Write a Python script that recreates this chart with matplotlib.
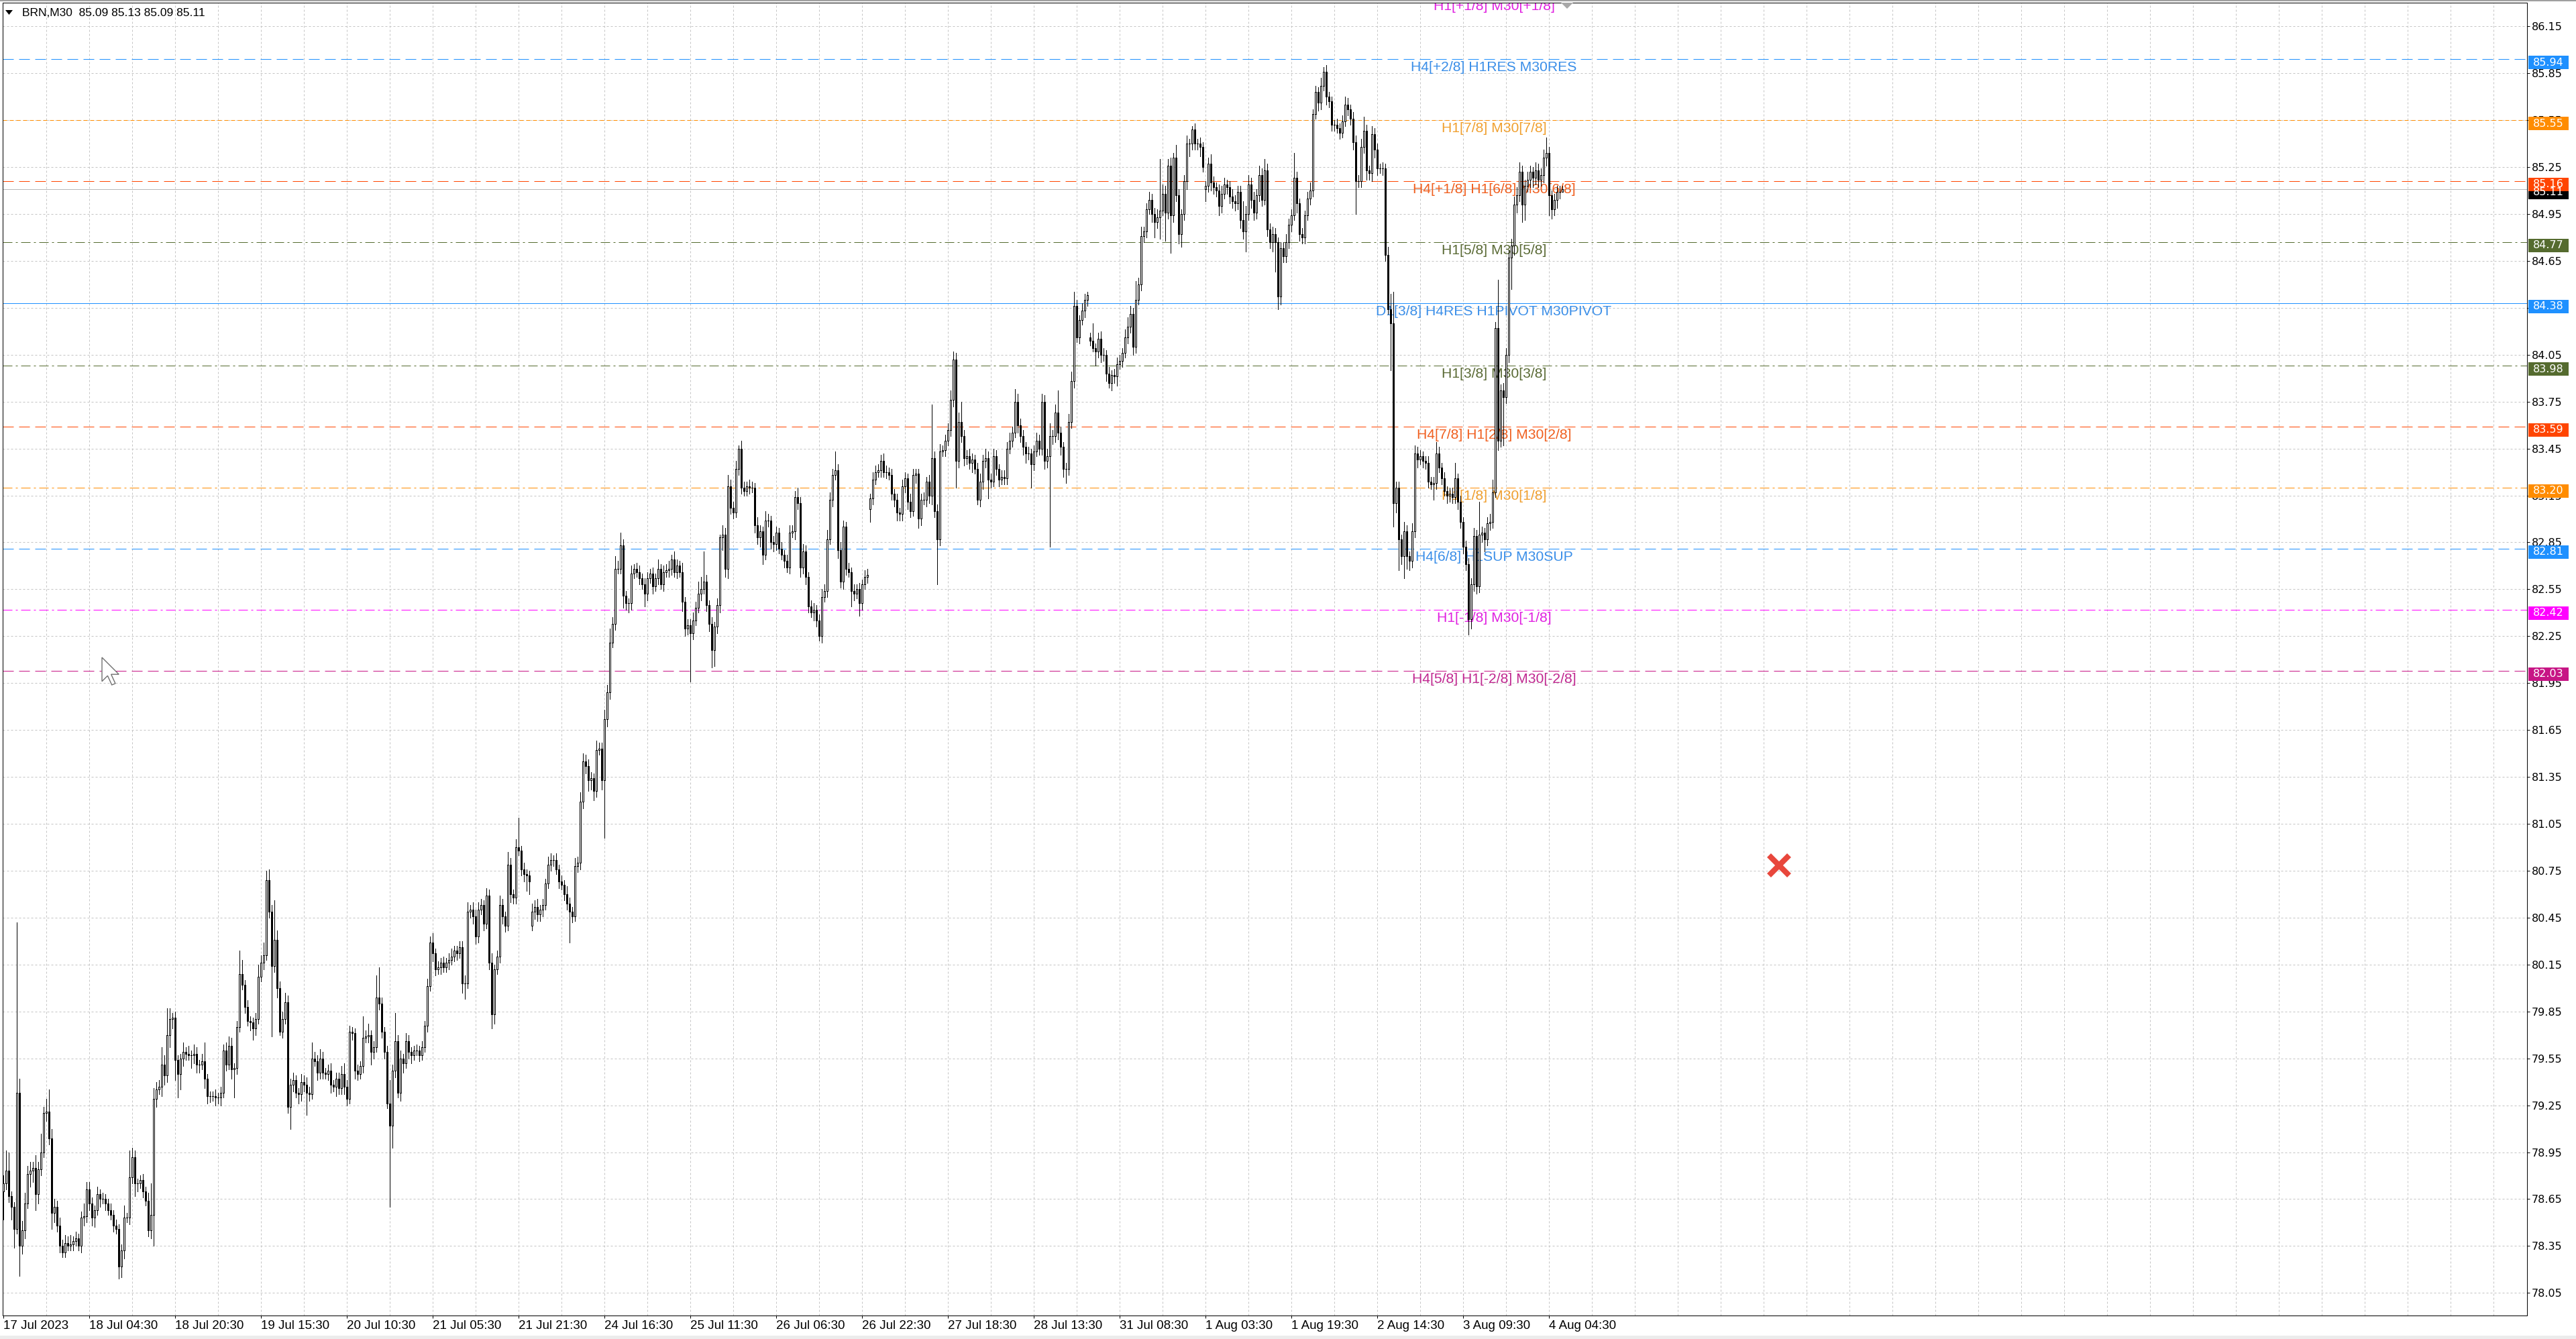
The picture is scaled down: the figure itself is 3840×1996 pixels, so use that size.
import matplotlib
matplotlib.use("Agg")
import matplotlib.pyplot as plt
import matplotlib.transforms as mtransforms
from matplotlib.patches import Rectangle, Polygon
from matplotlib.lines import Line2D

# ------------------------------------------------------------------ data
header_text = "BRN,M30  85.09 85.13 85.09 85.11"
first_open = 78.70

closes = [
    78.75, 78.83, 78.67, 78.60, 78.46, 79.33, 78.35, 78.45, 78.62, 78.81, 78.83, 78.85, 78.68, 78.84, 78.95, 79.20,
    79.21, 79.04, 78.56, 78.60, 78.48, 78.35, 78.31, 78.37, 78.35, 78.36, 78.38, 78.40, 78.35, 78.53, 78.54, 78.71,
    78.62, 78.53, 78.58, 78.68, 78.65, 78.65, 78.62, 78.58, 78.55, 78.48, 78.46, 78.22, 78.32, 78.53, 78.53, 78.79,
    78.92, 78.75, 78.75, 78.77, 78.70, 78.64, 78.45, 78.55, 79.29, 79.35, 79.37, 79.51, 79.44, 79.70, 79.80, 79.81,
    79.54, 79.45, 79.55, 79.59, 79.58, 79.57, 79.57, 79.58, 79.51, 79.51, 79.53, 79.42, 79.31, 79.31, 79.31, 79.30,
    79.30, 79.33, 79.60, 79.51, 79.63, 79.48, 79.49, 79.75, 80.09, 80.02, 79.88, 79.79, 79.78, 79.74, 79.80, 80.07,
    80.16, 80.21, 80.69, 80.49, 80.14, 80.31, 80.00, 79.72, 79.80, 79.91, 79.24, 79.38, 79.41, 79.33, 79.32, 79.40,
    79.38, 79.33, 79.32, 79.55, 79.53, 79.46, 79.55, 79.46, 79.45, 79.47, 79.38, 79.37, 79.42, 79.36, 79.45, 79.37,
    79.29, 79.72, 79.71, 79.47, 79.45, 79.50, 79.68, 79.69, 79.70, 79.59, 79.62, 79.94, 79.90, 79.72, 79.59, 79.26,
    79.12, 79.47, 79.66, 79.33, 79.55, 79.52, 79.66, 79.59, 79.57, 79.60, 79.60, 79.57, 79.62, 79.76, 80.01, 80.29,
    80.22, 80.12, 80.13, 80.16, 80.13, 80.16, 80.18, 80.20, 80.24, 80.22, 80.26, 80.03, 80.03, 80.49, 80.50, 80.46,
    80.33, 80.50, 80.53, 80.41, 80.59, 80.16, 79.83, 80.12, 80.20, 80.53, 80.46, 80.40, 80.79, 80.60, 80.58, 80.90,
    80.88, 80.76, 80.73, 80.72, 80.68, 80.49, 80.52, 80.47, 80.50, 80.53, 80.67, 80.79, 80.82, 80.82, 80.76, 80.68,
    80.66, 80.60, 80.54, 80.49, 80.46, 80.78, 80.80, 81.19, 81.45, 81.42, 81.33, 81.34, 81.26, 81.52, 81.53, 81.33,
    81.72, 81.89, 82.21, 82.33, 82.68, 82.68, 82.83, 82.51, 82.46, 82.46, 82.65, 82.68, 82.66, 82.62, 82.58, 82.52,
    82.62, 82.65, 82.57, 82.62, 82.68, 82.58, 82.66, 82.67, 82.68, 82.74, 82.66, 82.70, 82.66, 82.47, 82.30, 82.32,
    82.27, 82.35, 82.43, 82.52, 82.55, 82.60, 82.45, 82.33, 82.16, 82.31, 82.45, 82.88, 82.90, 82.68, 83.21, 83.07,
    83.04, 83.32, 83.45, 83.20, 83.18, 83.21, 83.20, 83.20, 82.96, 82.88, 82.92, 82.77, 82.99, 82.99, 82.85, 82.84,
    82.91, 82.81, 82.77, 82.73, 82.69, 82.91, 82.92, 83.14, 83.10, 82.69, 82.79, 82.63, 82.44, 82.40, 82.42, 82.35,
    82.25, 82.50, 82.54, 82.87, 83.12, 83.28, 83.31, 82.80, 82.60, 82.95, 82.68, 82.66, 82.54, 82.52, 82.55, 82.46,
    82.58, 82.63, 82.64, 83.13, 83.25, 83.30, 83.31, 83.37, 83.30, 83.30, 83.28, 83.16, 83.12, 83.04, 83.03, 83.21,
    83.26, 83.11, 83.05, 83.28, 83.29, 83.00, 83.12, 83.12, 83.24, 83.15, 83.39, 83.05, 82.87, 83.43, 83.44, 83.50,
    83.57, 83.76, 84.02, 83.37, 83.62, 83.53, 83.39, 83.40, 83.36, 83.38, 83.32, 83.12, 83.24, 83.37, 83.39, 83.25,
    83.24, 83.40, 83.32, 83.25, 83.27, 83.26, 83.45, 83.50, 83.55, 83.75, 83.60, 83.53, 83.46, 83.42, 83.42, 83.35,
    83.43, 83.50, 83.45, 83.75, 83.37, 83.40, 83.53, 83.53, 83.68, 83.55, 83.46, 83.32, 83.32, 83.62, 83.88, 84.36,
    84.16, 84.27, 84.33, 84.40, 84.43, 84.14, 84.09, 84.07, 84.15, 84.05, 84.05, 83.93, 83.87, 83.92, 83.91, 83.99,
    84.01, 84.06, 84.16, 84.23, 84.31, 84.10, 84.40, 84.50, 84.81, 84.84, 84.98, 85.04, 84.95, 84.90, 84.93, 84.97,
    85.08, 84.96, 85.26, 84.94, 85.31, 85.07, 84.82, 84.95, 85.16, 85.40, 85.40, 85.49, 85.40, 85.40, 85.38, 85.25,
    85.13, 85.27, 85.15, 85.12, 85.10, 85.00, 85.08, 85.14, 85.12, 85.06, 85.03, 85.02, 85.09, 84.91, 84.84, 84.95,
    85.14, 85.04, 84.96, 85.07, 85.20, 85.04, 85.23, 84.85, 84.77, 84.82, 84.77, 84.42, 84.73, 84.68, 84.77, 84.88,
    84.94, 85.18, 85.02, 84.82, 84.80, 84.94, 85.05, 85.10, 85.59, 85.73, 85.66, 85.77, 85.86, 85.70, 85.67, 85.52,
    85.52, 85.50, 85.47, 85.54, 85.65, 85.62, 85.56, 85.41, 85.16, 85.16, 85.38, 85.48, 85.23, 85.21, 85.46, 85.36,
    85.24, 85.24, 85.24, 84.69, 84.34, 84.25, 83.10, 83.20, 82.87, 82.76, 82.92, 82.76, 82.73, 82.92, 83.42, 83.38,
    83.40, 83.37, 83.36, 83.24, 83.22, 83.23, 83.42, 83.33, 83.26, 83.18, 83.15, 83.16, 83.14, 83.26, 83.11, 82.98,
    82.82, 82.71, 82.36, 82.58, 82.89, 82.57, 82.90, 82.91, 82.87, 82.97, 82.98, 83.17, 84.22, 83.50, 83.82, 83.78,
    84.05, 84.67, 84.75, 85.01, 85.07, 85.22, 85.01, 85.13, 85.17, 85.22, 85.18, 85.23, 85.17, 85.20, 85.31, 85.34,
    85.07, 84.98, 85.04, 85.09, 85.09, 85.11,
]

# upper / lower shadow lengths in cents
wick_up = [
    5, 13, 12, 3, 3, 109, 9, 6, 7, 5, 6, 4, 8, 5, 12, 4,
    8, 14, 6, 5, 4, 5, 4, 5, 4, 6, 3, 4, 3, 4, 8, 5,
    5, 4, 3, 5, 3, 4, 3, 3, 4, 3, 4, 3, 4, 8, 3, 17,
    6, 4, 3, 3, 4, 3, 5, 20, 7, 5, 4, 11, 6, 17, 7, 3,
    4, 3, 3, 6, 3, 5, 3, 6, 4, 3, 5, 12, 3, 3, 3, 4,
    3, 4, 4, 5, 6, 5, 3, 4, 15, 9, 3, 4, 3, 3, 4, 8,
    5, 8, 6, 7, 4, 25, 6, 4, 5, 6, 4, 4, 5, 3, 3, 5,
    4, 5, 4, 10, 4, 4, 6, 4, 3, 4, 5, 3, 4, 4, 5, 7,
    4, 4, 3, 3, 4, 3, 14, 4, 7, 3, 4, 14, 19, 4, 3, 4,
    15, 4, 18, 4, 5, 3, 5, 4, 3, 3, 4, 3, 4, 3, 5, 4,
    6, 3, 4, 3, 4, 3, 4, 5, 3, 3, 4, 4, 5, 6, 3, 5,
    4, 5, 4, 3, 5, 4, 6, 3, 4, 6, 4, 3, 8, 4, 3, 5,
    19, 3, 4, 3, 3, 5, 4, 5, 3, 4, 3, 5, 4, 3, 4, 3,
    4, 3, 5, 4, 3, 5, 4, 6, 5, 4, 4, 4, 3, 6, 4, 4,
    6, 5, 9, 4, 8, 5, 8, 4, 3, 3, 5, 3, 4, 4, 3, 4,
    4, 3, 4, 3, 6, 3, 4, 4, 5, 3, 5, 4, 3, 6, 3, 4,
    4, 5, 4, 8, 8, 19, 4, 3, 4, 3, 4, 2, 6, 4, 7, 4,
    4, 5, 2, 5, 4, 3, 4, 4, 3, 5, 4, 3, 6, 4, 3, 4,
    4, 3, 4, 3, 4, 5, 4, 4, 6, 4, 5, 4, 3, 4, 4, 3,
    4, 5, 4, 6, 5, 4, 12, 4, 5, 4, 3, 4, 3, 4, 3, 4,
    3, 4, 4, 3, 5, 4, 4, 4, 5, 4, 3, 4, 3, 4, 3, 4,
    4, 3, 5, 4, 3, 3, 4, 5, 3, 4, 34, 4, 4, 5, 3, 4,
    4, 6, 5, 4, 6, 13, 4, 4, 5, 4, 3, 4, 5, 4, 6, 4,
    4, 5, 4, 3, 4, 4, 4, 5, 4, 8, 5, 4, 4, 3, 4, 3,
    4, 5, 4, 5, 4, 5, 8, 4, 5, 14, 4, 3, 4, 5, 6, 9,
    4, 3, 5, 4, 2, 3, 11, 3, 4, 5, 4, 3, 4, 3, 4, 4,
    4, 3, 5, 6, 5, 4, 12, 4, 6, 3, 4, 5, 4, 4, 5, 33,
    6, 5, 4, 5, 3, 8, 4, 3, 4, 5, 3, 2, 4, 3, 4, 3,
    3, 4, 6, 4, 3, 4, 5, 4, 3, 4, 5, 4, 4, 4, 12, 5,
    6, 4, 5, 4, 6, 4, 7, 4, 4, 5, 4, 3, 4, 4, 5, 4,
    4, 16, 4, 3, 4, 3, 4, 5, 3, 4, 3, 5, 3, 4, 3, 3,
    3, 4, 3, 4, 5, 4, 3, 4, 4, 4, 5, 9, 4, 3, 5, 4,
    4, 3, 4, 3, 5, 10, 20, 4, 4, 3, 6, 4, 3, 5, 5, 4,
    4, 3, 3, 4, 3, 4, 7, 4, 3, 4, 3, 4, 4, 10, 3, 4,
    3, 4, 4, 4, 5, 4, 21, 4, 3, 4, 5, 8, 4, 31, 4, 5,
    4, 5, 4, 5, 5, 6, 4, 4, 5, 4, 3, 5, 4, 4, 5, 10,
    4, 3, 4, 4, 4, 2,
]
wick_dn = [
    18, 4, 4, 8, 12, 3, 19, 5, 5, 3, 8, 7, 10, 6, 4, 3,
    5, 4, 10, 6, 4, 4, 3, 3, 3, 3, 4, 3, 3, 4, 5, 4,
    4, 5, 6, 3, 5, 3, 4, 3, 3, 4, 3, 8, 7, 5, 3, 4,
    4, 8, 5, 3, 4, 3, 4, 5, 20, 5, 3, 6, 6, 4, 8, 6,
    13, 15, 10, 5, 4, 3, 8, 5, 5, 5, 3, 6, 5, 4, 3, 5,
    4, 5, 3, 4, 3, 6, 18, 4, 3, 3, 4, 3, 5, 7, 4, 3,
    3, 4, 3, 4, 45, 4, 6, 2, 4, 3, 4, 14, 4, 3, 6, 4,
    4, 14, 4, 3, 3, 5, 4, 4, 3, 4, 5, 3, 6, 4, 4, 5,
    4, 3, 4, 5, 4, 3, 4, 3, 4, 8, 4, 3, 4, 4, 4, 3,
    52, 14, 4, 3, 5, 6, 3, 4, 5, 3, 3, 4, 3, 3, 4, 3,
    5, 4, 3, 4, 3, 3, 4, 3, 3, 4, 3, 6, 10, 3, 4, 5,
    5, 4, 3, 4, 3, 4, 9, 6, 3, 4, 5, 4, 3, 5, 4, 4,
    3, 4, 5, 10, 8, 3, 5, 4, 4, 4, 3, 3, 4, 4, 3, 4,
    3, 4, 4, 20, 4, 3, 4, 4, 4, 5, 7, 6, 6, 4, 3, 6,
    37, 5, 4, 3, 4, 3, 3, 8, 4, 6, 4, 3, 3, 4, 3, 8,
    4, 3, 5, 3, 4, 3, 4, 3, 4, 4, 3, 4, 3, 6, 5, 4,
    31, 4, 3, 3, 4, 3, 4, 5, 11, 10, 4, 5, 8, 5, 6, 4,
    4, 3, 4, 4, 3, 3, 4, 3, 5, 4, 6, 6, 3, 4, 4, 5,
    4, 3, 3, 4, 3, 4, 3, 5, 4, 6, 4, 5, 4, 3, 5, 4,
    3, 4, 3, 4, 3, 4, 3, 5, 4, 5, 4, 3, 10, 4, 3, 8,
    4, 3, 4, 8, 4, 3, 3, 4, 3, 4, 3, 4, 4, 5, 4, 4,
    4, 5, 4, 3, 5, 6, 4, 3, 4, 5, 6, 4, 29, 4, 3, 4,
    3, 4, 4, 17, 4, 4, 5, 4, 4, 6, 3, 3, 4, 5, 4, 12,
    4, 3, 4, 4, 3, 4, 4, 3, 4, 3, 5, 4, 5, 6, 4, 15,
    4, 3, 4, 4, 5, 4, 58, 5, 4, 4, 5, 5, 9, 4, 4, 4,
    3, 4, 3, 4, 4, 3, 2, 9, 4, 5, 4, 5, 3, 5, 4, 6,
    3, 4, 3, 4, 4, 5, 4, 3, 4, 4, 4, 3, 5, 10, 4, 14,
    3, 18, 4, 24, 4, 4, 6, 8, 4, 5, 8, 4, 4, 4, 6, 3,
    8, 4, 5, 4, 4, 6, 4, 3, 4, 4, 4, 5, 4, 5, 5, 13,
    4, 5, 5, 4, 4, 4, 3, 4, 4, 6, 19, 8, 5, 4, 4, 4,
    4, 3, 6, 4, 4, 4, 3, 4, 4, 3, 5, 4, 3, 5, 4, 4,
    4, 3, 4, 3, 3, 4, 4, 5, 21, 4, 4, 4, 6, 4, 5, 5,
    4, 3, 4, 4, 3, 30, 15, 6, 20, 5, 14, 8, 6, 4, 4, 5,
    3, 4, 4, 4, 3, 10, 4, 3, 4, 3, 5, 4, 4, 4, 5, 4,
    4, 4, 10, 6, 4, 5, 4, 5, 8, 4, 4, 4, 3, 6, 4, 31,
    4, 5, 20, 6, 5, 4, 11, 10, 4, 5, 6, 4, 5, 4, 5, 5,
    13, 6, 4, 5, 4, 0,
]

# bars that opened with a price gap (open differs from previous close)
gap_opens = {197: 80.40, 323: 83.06, 405: 84.16, 448: 85.11}

xtick_bars = [0, 32, 64, 96, 128, 160, 192, 224, 256, 288, 320, 352, 384, 416, 448, 480, 512, 544, 576]
xtick_labels = ["17 Jul 2023", "18 Jul 04:30", "18 Jul 20:30", "19 Jul 15:30", "20 Jul 10:30",
                "21 Jul 05:30", "21 Jul 21:30", "24 Jul 16:30", "25 Jul 11:30", "26 Jul 06:30",
                "26 Jul 22:30", "27 Jul 18:30", "28 Jul 13:30", "31 Jul 08:30", "1 Aug 03:30",
                "1 Aug 19:30", "2 Aug 14:30", "3 Aug 09:30", "4 Aug 04:30"]
ytick_prices = [78.05, 78.35, 78.65, 78.95, 79.25, 79.55, 79.85, 80.15, 80.45, 80.75, 81.05, 81.35,
                81.65, 81.95, 82.25, 82.55, 82.85, 83.15, 83.45, 83.75, 84.05, 84.35, 84.65, 84.95,
                85.25, 85.55, 85.85, 86.15]

level_prices = [86.33, 85.94, 85.55, 85.16, 84.77, 84.38, 83.98, 83.59, 83.20, 82.81, 82.42, 82.03]
level_names = ["H1[+1/8] M30[+1/8]", "H4[+2/8] H1RES M30RES", "H1[7/8] M30[7/8]",
               "H4[+1/8] H1[6/8] M30[6/8]", "H1[5/8] M30[5/8]", "D1[3/8] H4RES H1PIVOT M30PIVOT",
               "H1[3/8] M30[3/8]", "H4[7/8] H1[2/8] M30[2/8]", "H1[1/8] M30[1/8]",
               "H4[6/8] H1SUP M30SUP", "H1[-1/8] M30[-1/8]", "H4[5/8] H1[-2/8] M30[-2/8]"]
level_colors = ["#ff00ff", "#1e90ff", "#ff8c00", "#ff4500", "#556b2f", "#1e90ff",
                "#556b2f", "#ff4500", "#ff8c00", "#1e90ff", "#ff00ff", "#c71585"]
level_text_colors = ["#e020e0", "#3a8ee8", "#f0a030", "#f06020", "#5a6a35", "#3a8ee8",
                     "#5a6a35", "#f06020", "#f0a030", "#3a8ee8", "#e020e0", "#c02890"]
level_styles = ["dashdot", "dash", "short", "dash", "dashdot", "solid",
                "dashdot", "dash", "dashdot", "dash", "dashdot", "dash"]
current_price = 85.11

# ------------------------------------------------------------------ derived OHLC
n = len(closes)
assert len(wick_up) == n and len(wick_dn) == n
opens = [first_open] + [gap_opens.get(i, closes[i - 1]) for i in range(1, n)]
highs = [max(o, c) + u / 100.0 for o, c, u in zip(opens, closes, wick_up)]
lows = [min(o, c) - d / 100.0 for o, c, d in zip(opens, closes, wick_dn)]

# ------------------------------------------------------------------ figure
W, H, DPI = 3840, 1996, 100
fig = plt.figure(figsize=(W / DPI, H / DPI), dpi=DPI, facecolor="white")
PL, PR, PT, PB = 4, 3767, 4, 1961
ax = fig.add_axes([PL / W, 1 - PB / H, (PR - PL) / W, (PB - PT) / H])
ax.set_facecolor("white")
PPU = 233.1                       # pixels per price unit
ytop = 86.15 + (39.2 - PT) / PPU
ybot = ytop - (PB - PT) / PPU
ax.set_ylim(ybot, ytop)
ax.set_xlim(-0.25, -0.25 + (PR - PL) / 4.0)
LW = 0.72  # one pixel

for s in ax.spines.values():
    s.set_linewidth(LW)
    s.set_color("black")

# grid
xmin, xmax = ax.get_xlim()
ax.hlines(ytick_prices, xmin, xmax, colors="#c4c4c4", linestyles=(0, (3, 3)), lw=LW, zorder=0.5)
ax.vlines(list(range(16, int(xmax), 16)), ybot, ytop, colors="#c4c4c4", linestyles=(0, (3, 3)),
          lw=LW, zorder=0.5)

# level lines
dash_map = {"dash": (0, (16, 8)), "short": (0, (6, 4)), "dashdot": (0, (14, 5, 3, 5)), "solid": "-"}
for p, c, st in zip(level_prices, level_colors, level_styles):
    ax.axhline(p, color=c, lw=LW, linestyle=dash_map[st], zorder=1.6)
ax.axhline(current_price, color="#b8b8b8", lw=LW, zorder=1.55)

# level texts (centered, just below the line)
txt_trans = mtransforms.offset_copy(ax.transData, fig=fig, x=0, y=-3, units="dots")
for p, t, c in zip(level_prices, level_names, level_text_colors):
    ax.text(555.5, p, t, transform=txt_trans, ha="center", va="top", color=c,
            fontsize=15.2, family=["Liberation Sans", "DejaVu Sans"], zorder=2, clip_on=True)

# candles
xs = list(range(n))
ax.vlines(xs, lows, highs, colors="black", lw=LW, zorder=3, antialiased=False)
bull = [i for i in xs if closes[i] >= opens[i]]
bear = [i for i in xs if closes[i] < opens[i]]
ax.bar(bull, [closes[i] - opens[i] for i in bull], bottom=[opens[i] for i in bull], width=0.5,
       color="white", edgecolor="black", linewidth=LW, zorder=4, antialiased=False)
ax.bar(bear, [opens[i] - closes[i] for i in bear], bottom=[closes[i] for i in bear], width=0.5,
       color="black", edgecolor="black", linewidth=LW, zorder=4, antialiased=False)

# axes ticks
ax.yaxis.tick_right()
ax.set_yticks(ytick_prices)
ax.set_yticklabels([f"{v:.2f}" for v in ytick_prices])
ax.tick_params(axis="y", direction="out", length=3, width=LW, pad=2, labelsize=11.5,
               colors="black")
for lbl in ax.get_yticklabels():
    lbl.set_fontfamily("DejaVu Sans")
ax.set_xticks(xtick_bars)
ax.set_xticklabels(xtick_labels)
ax.tick_params(axis="x", direction="out", length=3, width=LW, pad=2, labelsize=13.5)
for lbl in ax.get_xticklabels():
    lbl.set_ha("left")
    lbl.set_fontfamily("Liberation Sans")

# price boxes on the right scale
bt = mtransforms.blended_transform_factory(ax.transAxes, ax.transData)
axw = PR - PL
bx0 = (3769 - PL) / axw
bw = 60.0 / axw
def price_box(p, color, hpx=20.0):
    y0 = p - 15.0 / PPU
    ax.add_patch(Rectangle((bx0, y0), bw, hpx / PPU, transform=bt, facecolor=color,
                           edgecolor="none", clip_on=False, zorder=10))
    ax.text(bx0 + bw / 2, y0 + 10.0 / PPU, f"{p:.2f}", transform=bt, ha="center", va="center",
            color="white", fontsize=11.5, family="DejaVu Sans", clip_on=False, zorder=11)

price_box(current_price, "black", hpx=14.0)
for p, c in zip(level_prices[1:], level_colors[1:]):
    price_box(p, c)

# header
fig.add_artist(Polygon([[8 / W, 1 - 15 / H], [19 / W, 1 - 15 / H], [13.5 / W, 1 - 22 / H]],
                       closed=True, transform=fig.transFigure, facecolor="black", edgecolor="none"))
fig.text(33 / W, 1 - 19 / H, header_text, ha="left", va="center", fontsize=12.5,
         family="Liberation Sans", color="black")

# chart-shift marker at the top
fig.add_artist(Polygon([[2327 / W, 1 - 4 / H], [2345 / W, 1 - 4 / H], [2336 / W, 1 - 13 / H]],
                       closed=True, transform=fig.transFigure, facecolor="#a8a8a8", edgecolor="none"))

# mouse cursor
cur = [(0, 0), (0, 17), (4, 13), (7, 19.5), (9.5, 18.5), (6.5, 12), (12, 12)]
sc = 2.1
cx, cy = 152, 980
fig.add_artist(Polygon([[(cx + a * sc) / W, 1 - (cy + b * sc) / H] for a, b in cur], closed=True,
                       transform=fig.transFigure, facecolor="white", edgecolor="#707070", lw=1.0))

# red cross
fig.add_artist(Line2D([2652 / W], [1 - 1290 / H], marker="x", markersize=22, markeredgewidth=6,
                      color="#e8473c", transform=fig.transFigure))

# window borders
fig.add_artist(Rectangle((0, 1 - 2 / H), 1, 2 / H, transform=fig.transFigure,
                         facecolor="#a0a0a0", edgecolor="none"))
fig.add_artist(Rectangle((0, 0), 1, 5 / H, transform=fig.transFigure,
                         facecolor="#ececec", edgecolor="none"))

fig.savefig("out.png", dpi=DPI, facecolor="white")
